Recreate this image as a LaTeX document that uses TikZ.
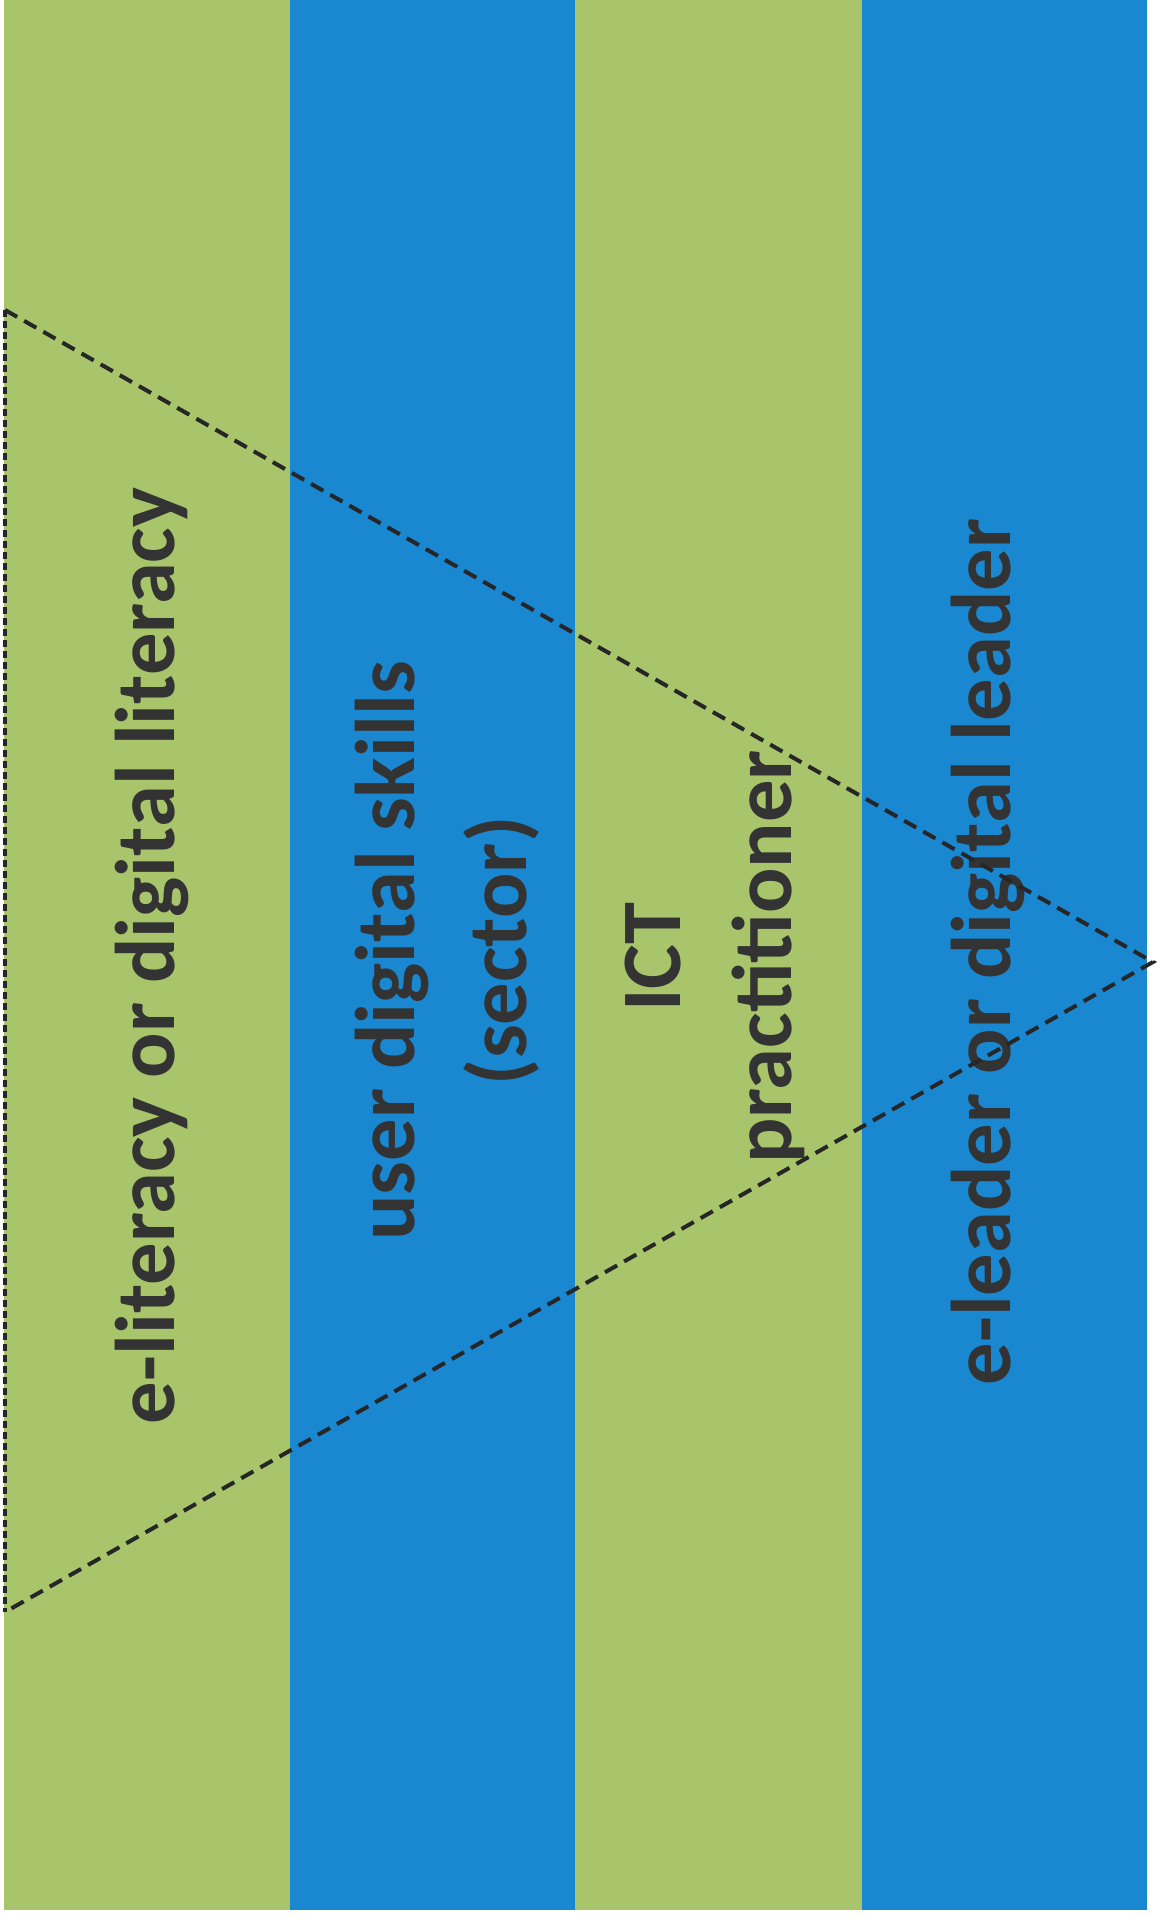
\documentclass[tikz,border=0pt]{standalone}
\usepackage{fontspec}
\setmainfont{Carlito}
\begin{document}
\definecolor{stripegreen}{HTML}{A8C56B}
\definecolor{stripeblue}{HTML}{1A87D1}
\definecolor{labelgray}{HTML}{333333}
\begin{tikzpicture}[x=1bp,y=-1bp,
  label/.style={rotate=90,align=center,text=labelgray,inner sep=0pt,
    font=\fontsize{85}{112}\selectfont\bfseries},
  edge/.style={draw=black!85,line width=4bp,dash pattern=on 14bp off 8bp},
  sideedge/.style={draw=black!85,line width=4bp,dash pattern=on 7bp off 4bp}]
  % canvas
  \fill[white] (0,0) rectangle (1159,1918);
  \useasboundingbox (0,0) rectangle (1159,1918);
  % four level bands
  \fill[stripegreen] (4,0) rectangle (290,1910);
  \fill[stripeblue]  (290,0) rectangle (575,1910);
  \fill[stripegreen] (575,0) rectangle (862,1910);
  \fill[stripeblue]  (862,0) rectangle (1147,1910);
  % band labels
  \node[label] (lit)  at (152,956) {e-literacy or digital literacy};
  \node[label] (user) at (447,951) {user digital skills\\(sector)};
  \node[label] (ict)  at (715,957) {ICT\\practitioner};
  \node[label] (lead) at (988,952) {e-leader or digital leader};
  % funnel triangle
  \coordinate (top) at (5,310);
  \coordinate (tip) at (1153,962);
  \coordinate (bot) at (5,1612);
  \draw[edge] (top) -- (tip) -- (bot);
  \draw[sideedge] (top) -- (bot);
\end{tikzpicture}
\end{document}
